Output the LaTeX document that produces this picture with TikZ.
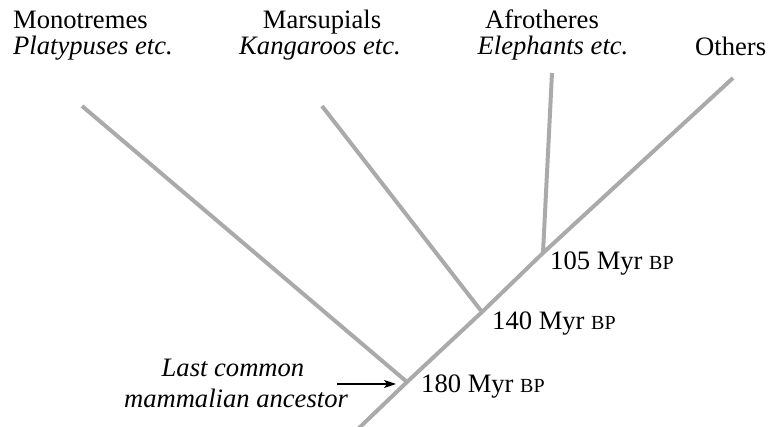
\documentclass[tikz,border=0pt]{standalone}
\usepackage{fontspec}
\setmainfont{Liberation Serif}
\usetikzlibrary{arrows.meta}
\definecolor{branchgray}{RGB}{170,170,170}

\begin{document}
\begin{tikzpicture}[x=1pt,y=-1pt,>={Stealth[length=12pt,width=8pt,inset=3pt]},
                    branch/.style={draw=branchgray,line width=4pt},
                    label/.style={inner sep=0pt,font=\fontsize{26.6}{27}\selectfont},
                    age/.style={label,anchor=base west}]

  \useasboundingbox (0,0) rectangle (769,427);

  % branch points and tips
  \coordinate (base)   at (358,429);
  \coordinate (root)   at (407,382);
  \coordinate (n140)   at (482,312);
  \coordinate (n105)   at (543,253);
  \coordinate (mono)   at (82,106);
  \coordinate (mars)   at (322,106);
  \coordinate (afro)   at (552,73);
  \coordinate (others) at (733,78);

  \draw[branch] (base) -- (root) -- (n140) -- (n105) -- (others);
  \draw[branch] (root) -- (mono);
  \draw[branch] (n140) -- (mars);
  \draw[branch] (n105) -- (afro);

  % group names
  \node[label,anchor=base west] (mononame) at (13,29) {Monotremes};
  \node[label,anchor=base west] (monoex)   at (13,55) {\itshape Platypuses etc.};
  \node[label,anchor=base]      (marsname) at (322,29) {Marsupials};
  \node[label,anchor=base]      (marsex)   at (320,55) {\itshape Kangaroos etc.};
  \node[label,anchor=base]      (afroname) at (542,29) {Afrotheres};
  \node[label,anchor=base]      (afroex)   at (553,55) {\itshape Elephants etc.};
  \node[label,anchor=base west] (othname)  at (695,56) {Others};

  % ages
  \node[age] (age180) at (421,393) {180 Myr {\fontsize{20}{20}\selectfont BP}};
  \node[age] (age140) at (492,330) {140 Myr {\fontsize{20}{20}\selectfont BP}};
  \node[age] (age105) at (550,270) {105 Myr {\fontsize{20}{20}\selectfont BP}};

  % ancestor
  \node[label,anchor=base] (lca1) at (233,377) {\itshape Last common};
  \node[label,anchor=base] (lca2) at (236,408) {\itshape mammalian ancestor};
  \coordinate (arrfrom) at (337,384);
  \coordinate (arrto)   at (396,384);
  \draw[->,line width=1.3pt] (arrfrom) -- (arrto);
\end{tikzpicture}
\end{document}
